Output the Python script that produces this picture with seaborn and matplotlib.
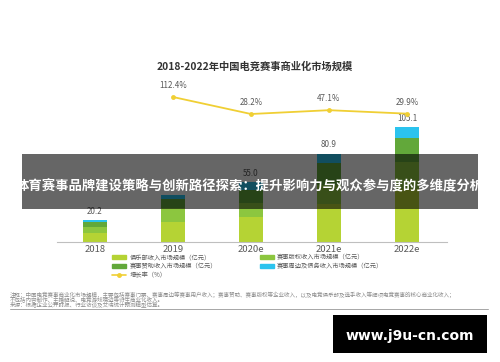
import numpy as np
import pandas as pd
import matplotlib
matplotlib.use("Agg")
import matplotlib.pyplot as plt
import seaborn as sns
from matplotlib.patches import Patch, Rectangle
from matplotlib.lines import Line2D

# --- datos ---
years = ["2018", "2019", "2020e", "2021e", "2022e"]
club = [8.5, 18.3, 23.0, 34.5, 48.1]        # 俱乐部收入
copyright_ = [5.5, 12.5, 13.0, 17.4, 25.0]  # 赛事版权收入
sponsor = [4.0, 8.4, 12.0, 20.0, 22.0]      # 赛事赞助收入
periph = [2.2, 3.7, 7.0, 9.0, 10.0]         # 赛事周边及债务收入
totals = [20.2, 42.9, 55.0, 80.9, 105.1]
growth_years = ["2019", "2020e", "2021e", "2022e"]
growth = [112.4, 28.2, 47.1, 29.9]
# el rótulo de 2019 queda tapado por la banda en el original
hidden_labels = ["2019"]

series_names = ["俱乐部收入市场规模（亿元）", "赛事版权收入市场规模（亿元）",
                "赛事赞助收入市场规模（亿元）", "赛事周边及债务收入市场规模（亿元）"]
colors = ["#b5d334", "#8cc63f", "#62a83a", "#2bc3ee"]
line_color = "#f0cf34"
grey = "#595959"

sns.set_theme(style="white")
plt.rcParams['font.family'] = ['Noto Sans CJK SC', 'DejaVu Sans']

W, H = 500, 362
fig = plt.figure(figsize=(W / 100, H / 100), dpi=100)
fig.patch.set_facecolor("white")

def fx(px):
    return px / W

def fy(py):
    return 1 - py / H

ax = fig.add_axes([fx(57), fy(242), fx(447) - fx(57), fy(90) - fy(242)])

df = pd.DataFrame({"year": years, "club": club, "copyright": copyright_,
                   "sponsor": sponsor, "periph": periph})
cols = ["club", "copyright", "sponsor", "periph"]
cum = df[cols].cumsum(axis=1)

# barras apiladas: se dibuja primero el acumulado mayor
for col, color in zip(cols[::-1], colors[::-1]):
    sns.barplot(x=df["year"], y=cum[col], color=color, saturation=1,
                width=0.31, ax=ax, order=years, linewidth=0,
                edgecolor="none", zorder=2)

for i, t in enumerate(totals):
    if years[i] in hidden_labels:
        continue
    ax.annotate(f"{t:.1f}", (i, cum["periph"][i]), xytext=(0, 3),
                textcoords="offset points", ha="center", va="bottom",
                fontsize=5.8, color=grey)

ax.set_xlim(-0.487, 4.513)
ax.set_ylim(0, 139)
ax.set_xlabel("")
ax.set_ylabel("")
ax.set_yticks([])
ax.set_xticks(range(len(years)))
ax.set_xticklabels(years, fontsize=6.8, color=grey)
ax.tick_params(axis="x", length=0, pad=2)
for s in ["top", "right", "left"]:
    ax.spines[s].set_visible(False)
ax.spines["bottom"].set_color("#bfbfbf")
ax.spines["bottom"].set_linewidth(0.8)
ax.set_facecolor("none")

# línea de crecimiento
ax2 = ax.twinx()
gx = [years.index(y) for y in growth_years]
sns.lineplot(x=gx, y=growth, ax=ax2, color=line_color, linewidth=1.3,
             marker="o", markersize=3.5, markeredgewidth=0)
for x, g in zip(gx, growth):
    ax2.annotate(f"{g:.1f}%", (x, g), xytext=(0, 5), textcoords="offset points",
                 ha="center", va="bottom", fontsize=5.8, color=grey)
ax2.set_ylim(-605.8, 147.1)
ax2.set_xlim(-0.487, 4.513)
ax2.axis("off")

# título
fig.text(fx(255), fy(67), "2018-2022年中国电竞赛事商业化市场规模", ha="center",
         va="center", fontsize=7.4, fontweight="bold", color="#333333")

# leyenda
handles = [Patch(color=colors[0]), Patch(color=colors[2]),
           Line2D([], [], color=line_color, marker="o", markersize=2.5, lw=1.2),
           Patch(color=colors[1]), Patch(color=colors[3])]
labels = [series_names[0], series_names[2], "增长率（%）", series_names[1], series_names[3]]
fig.legend(handles, labels, ncol=2, loc="upper left",
           bbox_to_anchor=(fx(112), fy(253)), frameon=False, fontsize=4.5,
           labelcolor=grey, handlelength=2.3, handleheight=0.7, handletextpad=0.5,
           columnspacing=6.8, labelspacing=0.2, borderpad=0, borderaxespad=0)

# notas
notes = ["注释：中国电竞赛事商业化市场规模，主要包括赛事门票、赛事周边等赛事用户收入；赛事赞助、赛事版权等企业收入，以及电竞俱乐部及选手收入等细项电竞赛事的核心商业化收入；",
         "不包括内容制作、主播解说、电竞游戏端边等衍生商业化收入。",
         "来源：根据企业公开财报、行业访谈及艾瑞统计预测模型估算。"]
for k, n in enumerate(notes):
    fig.text(fx(10), fy(294.5 + 5.5 * k), n, ha="left", va="center",
             fontsize=4.0, color="#8c8c8c")
fig.add_artist(Line2D([fx(10), fx(488)], [fy(309), fy(309)], color="#a6a6a6",
                      lw=0.7, transform=fig.transFigure))

# banda superpuesta
fig.add_artist(Rectangle((fx(22), fy(209)), fx(478) - fx(22), fy(154) - fy(209),
                         transform=fig.transFigure, facecolor="black", alpha=0.6,
                         edgecolor="none", zorder=10))
fig.text(fx(250), fy(186), "体育赛事品牌建设策略与创新路径探索：提升影响力与观众参与度的多维度分析",
         ha="center", va="center", fontsize=9.6, fontweight="bold", color="white",
         zorder=11)

# marca de agua
fig.add_artist(Rectangle((fx(333), fy(353)), fx(487) - fx(333), fy(315) - fy(353),
                         transform=fig.transFigure, facecolor="black",
                         edgecolor="none", zorder=10))
fig.text(fx(410), fy(336), "www.j9u-cn.com", ha="center", va="center",
         fontsize=10, fontweight="bold", color="white", family="DejaVu Sans",
         zorder=11)

fig.savefig("out.png", dpi=100, facecolor="white")
